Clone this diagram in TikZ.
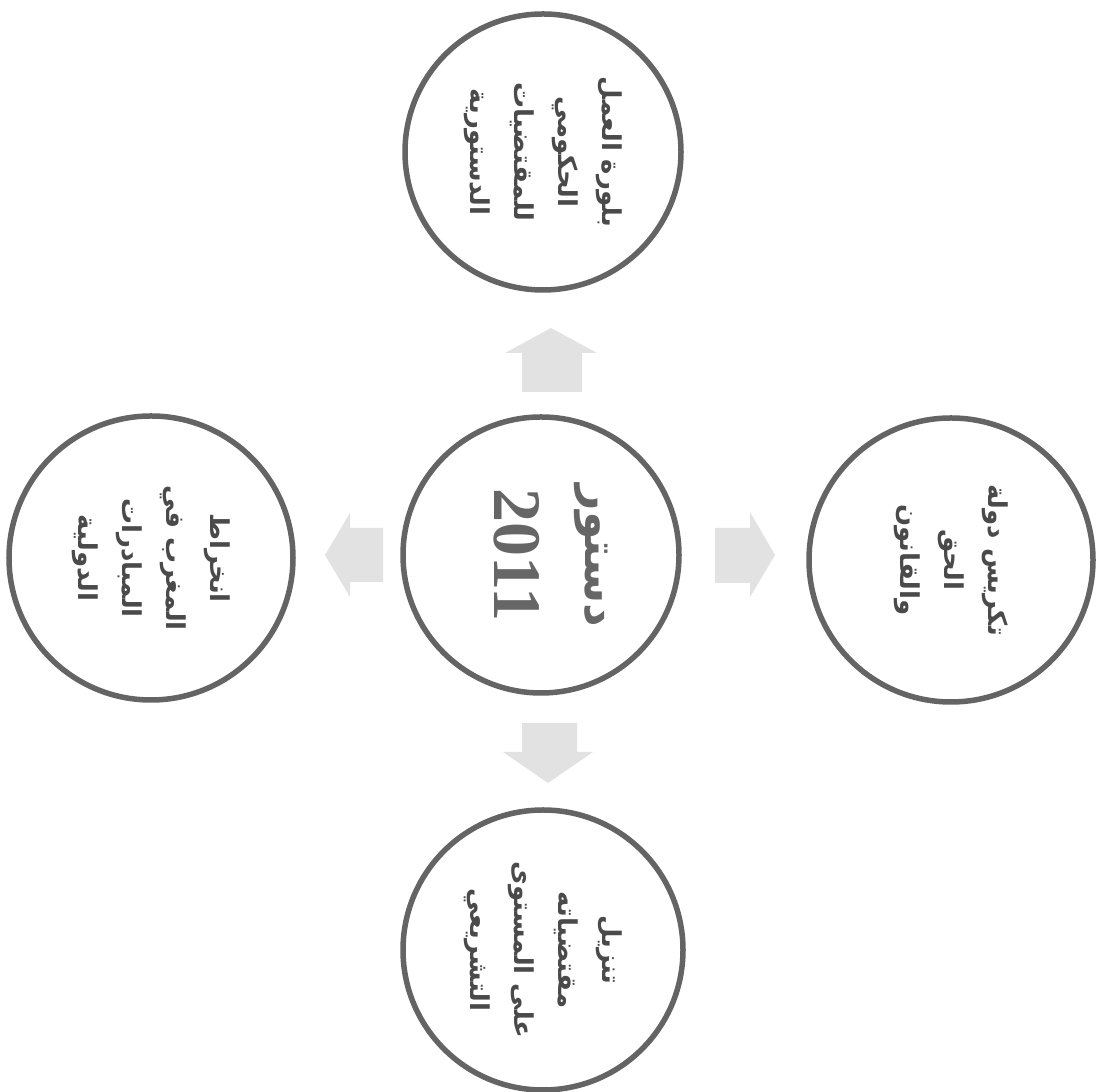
\documentclass[tikz,border=0pt]{standalone}
\usepackage{fontspec}
\TeXXeTstate=1
\newfontfamily\arabicfont[Script=Arabic]{DejaVu Sans}
\newfontfamily\numfont{Liberation Serif}
\begin{document}
\begin{tikzpicture}[x=1pt,y=1pt,
  ring/.style={circle,draw=ringgray,line width=5.5pt,minimum size=#1,inner sep=0pt},
  arw/.style={fill=arrowgray,draw=none},
  lbl/.style={rotate=-90,align=center,text=textgray,font=\arabicfont\bfseries\fontsize{26}{44}\selectfont}]
\definecolor{ringgray}{HTML}{646464}
\definecolor{arrowgray}{HTML}{E2E2E2}
\definecolor{textgray}{HTML}{4A4A4A}
\definecolor{centergray}{HTML}{666666}
\useasboundingbox[fill=white] (0,0) rectangle (1101,1092);
% circles
\node[ring=276pt] (C) at (541,537) {};
\node[ring=276pt] (T) at (543,940) {};
\node[ring=284pt] (L) at (151,534) {};
\node[ring=284pt] (R) at (951,532) {};
\node[ring=280pt] (B) at (543,142) {};
% labels
\node[rotate=-90,text=centergray,font=\arabicfont\bfseries\fontsize{46}{50}\selectfont] (tC1) at (591,536) {\beginR دستور\endR};
\node[rotate=-90,text=centergray,font=\numfont\bfseries\fontsize{68}{70}\selectfont] (tC2) at (517,537) {2011};
\node[lbl] (tT) at (T.center) {\beginR بلورة العمل\endR\\\beginR الحكومي\endR\\\beginR للمقتضيات\endR\\\beginR الدستورية\endR};
\node[lbl] (tR) at (R.center) {\beginR تكريس دولة\endR\\\beginR الحق\endR\\\beginR والقانون\endR};
\node[lbl] (tL) at (L.center) {\beginR انخراط\endR\\\beginR المغرب في\endR\\\beginR المبادرات\endR\\\beginR الدولية\endR};
\node[lbl] (tB) at (B.center) {\beginR تنزيل\endR\\\beginR مقتضياته\endR\\\beginR على المستوى\endR\\\beginR التشريعي\endR};
% block arrows
\fill[arw] (551,764) -- (597,739) -- (582,739) -- (582,700) -- (522,700) -- (522,739) -- (505,739) -- cycle;
\fill[arw] (325,537) -- (350,579) -- (350,564) -- (383,564) -- (383,510) -- (350,510) -- (350,495) -- cycle;
\fill[arw] (775,537) -- (750,580) -- (750,564) -- (715,564) -- (715,509) -- (750,509) -- (750,495) -- cycle;
\fill[arw] (548,309) -- (503,340) -- (522,340) -- (522,369) -- (577,369) -- (577,340) -- (593,340) -- cycle;
\end{tikzpicture}
\end{document}
